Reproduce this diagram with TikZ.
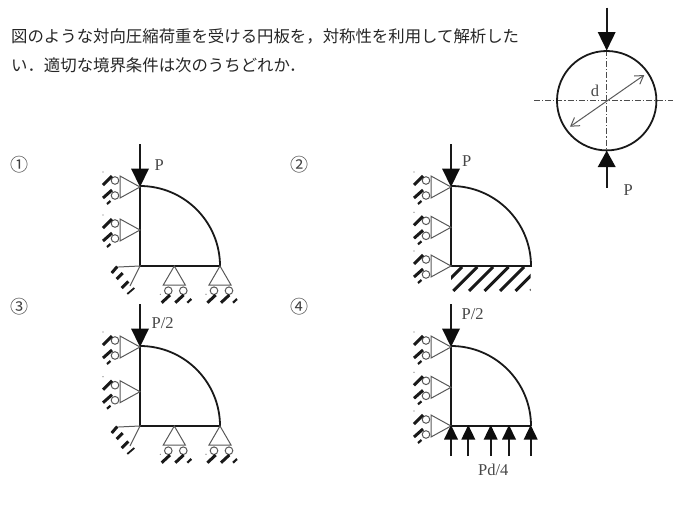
\documentclass[tikz,border=0pt]{standalone}
\usepackage{fontspec}
\usetikzlibrary{arrows.meta}
\setmainfont{Liberation Serif}
\newfontfamily\cjk{Noto Sans CJK JP}[BoldFont={* Medium}]
\tikzset{
  x=1pt,y=-1pt,
  thinl/.style={draw=black!65,line width=1pt},
  bar/.style={draw=black!90,line width=3pt},
  body/.style={draw=black!90,line width=1.8pt},
  axisl/.style={draw=black!70,line width=0.7pt,dash pattern=on 6pt off 2pt on 1.2pt off 2pt},
  lab/.style={inner sep=0pt,text=black!72,font=\fontsize{16.5}{18}\selectfont},
  sent/.style={inner sep=0pt,anchor=west,text=black!85,font=\cjk\fontsize{16.4}{18}\selectfont},
  num/.style={inner sep=0pt,text=black!75,font=\cjk\fontsize{18}{20}\selectfont},
  leftsup/.pic={
    \draw[thinl] (0,0) -- (-20,-11) -- (-20,11) -- cycle;
    \draw[thinl] (-25,-6.5) circle[radius=3.8] (-25,8.5) circle[radius=3.8];
    \draw[bar] (-37,-2) -- (-28,-11);
    \draw[bar] (-37,11) -- (-28,3);
    \draw[bar,line width=2.2pt] (-33,17) -- (-29.5,14);
    \fill[black!60] (-37,-15) circle[radius=0.6];
  },
  botsup/.pic={
    \draw[thinl] (0,0) -- (-11,19) -- (11,19) -- cycle;
    \draw[thinl] (-6,24.7) circle[radius=3.8] (9,24.7) circle[radius=3.8];
    \draw[bar] (-12.6,36.7) -- (-4.3,29);
    \draw[bar] (1,36.7) -- (9.3,29);
    \draw[bar,line width=2.2pt] (13,36.7) -- (17,33);
    \fill[black!60] (-14,28.3) circle[radius=0.6];
  },
  fixsup/.pic={
    \draw[thinl] (-21.7,1) -- (0,0) -- (-10,20);
    \draw[bar] (-28.3,7) -- (-22.7,0.5);
    \draw[bar] (-23.3,13) -- (-17.3,7);
    \draw[bar] (-18.3,22) -- (-11.7,15.5);
    \draw[bar,line width=1.8pt] (-12.7,28) -- (-5.7,22);
  },
  download/.pic={
    \draw[black!90,line width=2.3pt] (0,-43) -- (0,-16);
    \fill[black!95] (0,0) -- (-9,-18.5) -- (9,-18.5) -- cycle;
  },
  upload/.pic={
    \draw[black!90,line width=1.7pt] (0,31) -- (0,12);
    \fill[black!95] (0,0) -- (-7,14.5) -- (7,14.5) -- cycle;
  },
}
\begin{document}
\begin{tikzpicture}
\useasboundingbox (0,0) rectangle (678,506);
% question text
\node[sent] (line1) at (11,36) {図のような対向圧縮荷重を受ける円板を，対称性を利用して解析した};
\node[sent] (line2) at (11,65) {い．適切な境界条件は次のうちどれか．};
\node[num] (n1) at (19.5,164.5) {①};
\node[num] (n2) at (299.5,164.5) {②};
\node[num] (n3) at (19.5,307) {③};
\node[num] (n4) at (299.5,307) {④};
% disc
\draw[axisl] (534,100.7) -- (673,100.7);
\draw[axisl] (606.7,50) -- (606.7,151);
\draw[body] (606.7,100.7) circle[radius=49.7];
\draw[thinl,{Straight Barb[length=8pt,width=10pt]}-{Straight Barb[length=8pt,width=10pt]}] (570,126.7) -- (644.3,75);
\pic at (606.7,50.5) {download};
\draw[black!90,line width=2.3pt] (606.7,187.7) -- (606.7,165);
\fill[black!95] (606.7,150.7) -- (597.7,167) -- (615.7,167) -- cycle;
\node[lab] (d) at (595,90.7) {d};
\node[lab] (Ptop) at (628.3,190) {P};
% figure 1
\draw[body] (140,186.7) -- (140,266) -- (220,266) arc[start angle=0,end angle=-90,radius=80];
\pic at (140,187) {download};
\pic at (140,187) {leftsup};
\pic at (140,230) {leftsup};
\pic at (140,266) {fixsup};
\pic at (174.3,266) {botsup};
\pic at (220,266) {botsup};
\node[lab] (P1) at (159.3,165) {P};
% figure 2
\draw[body] (451,186.7) -- (451,266) -- (531,266) arc[start angle=0,end angle=-90,radius=80];
\pic at (451,187) {download};
\pic at (451,187) {leftsup};
\pic at (451,227.3) {leftsup};
\pic at (451,266) {leftsup};
\begin{scope}
\clip (451,267) rectangle (530.5,291);
\foreach \bx in {438,453.3,469,484.5,500,515.5,530.5}
  \draw[bar] (\bx,291) -- ++(24,-24);
\end{scope}
\node[lab] (P2) at (466.7,160.7) {P};
% figure 3
\draw[body] (140,346.7) -- (140,426) -- (220,426) arc[start angle=0,end angle=-90,radius=80];
\pic at (140,347) {download};
\pic at (140,347) {leftsup};
\pic at (140,391.7) {leftsup};
\pic at (140,426) {fixsup};
\pic at (174.3,426) {botsup};
\pic at (220,426) {botsup};
\node[lab] (P3) at (162.7,322.7) {P/2};
% figure 4
\draw[body] (451,346.7) -- (451,426);
\draw[body,line width=1.1pt] (451,426) -- (531,426);
\draw[body] (531,426) arc[start angle=0,end angle=-90,radius=80];
\pic at (451,347) {download};
\pic at (451,347) {leftsup};
\pic at (451,387.3) {leftsup};
\pic at (451,426) {leftsup};
\foreach \ax in {451,468.3,490.7,509,530.7}
  \pic at (\ax,425) {upload};
\node[lab] (P4) at (472.7,314) {P/2};
\node[lab] (Pd) at (493.3,470) {Pd/4};
\end{tikzpicture}
\end{document}
